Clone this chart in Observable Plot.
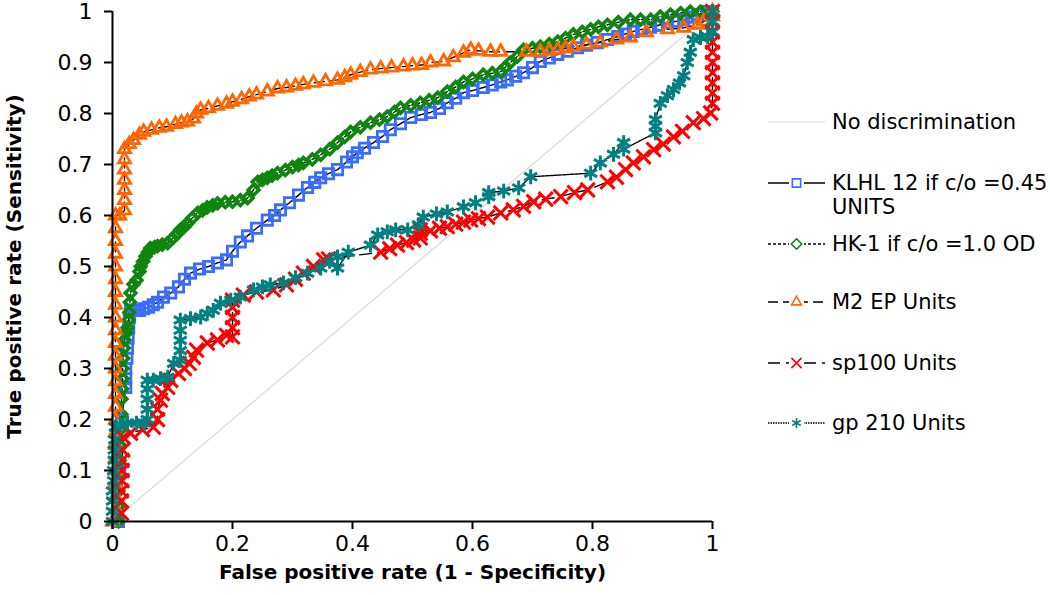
<!DOCTYPE html>
<html><head><meta charset="utf-8">
<script src="https://cdn.jsdelivr.net/npm/d3@7"></script>
<script src="https://cdn.jsdelivr.net/npm/@observablehq/plot@0.6"></script>
<style>
body{margin:0;background:#fff;font-family:"DejaVu Sans",sans-serif;}
#wrap{position:relative;width:1050px;height:595px;overflow:hidden;}
.leg{position:absolute;left:768px;font-size:21px;line-height:24px;color:#000;display:flex;align-items:flex-start;white-space:nowrap;}
.leg svg{flex:none;margin-right:7px;}
</style></head><body><div id="wrap"></div>
<script>
const xTicks=[0,0.2,0.4,0.6,0.8,1];
const yTicks=[0,0.1,0.2,0.3,0.4,0.5,0.6,0.7,0.8,0.9,1];
const xTitle="False positive rate (1 - Specificity)";
const yTitle="True positive rate (Sensitivity)";
const seriesNames=["No discrimination","KLHL 12 if c/o =0.45\nUNITS","HK-1 if c/o =1.0 OD","M2 EP Units","sp100 Units","gp 210 Units"];
const seriesColors=["#d9d9d9","#3a6cff","#0f860f","#ff6600","#ff0000","#008080"];

const noDisc=[[0,0],[1,1]];

const klhl=[[0.01,0],[0.012,0.1],[0.015,0.2],[0.022,0.263],[0.022,0.28],[0.022,0.3],[0.024,0.32],[0.025,0.34],[0.026,0.36],[0.027,0.38],[0.028,0.4],[0.03,0.414],[0.038,0.414],[0.045,0.414],[0.052,0.417],[0.06,0.42],[0.068,0.425],[0.075,0.43],[0.085,0.44],[0.097,0.448],[0.11,0.46],[0.12,0.475],[0.13,0.487],[0.145,0.495],[0.16,0.5],[0.175,0.507],[0.19,0.513],[0.2,0.53],[0.213,0.548],[0.225,0.56],[0.24,0.575],[0.258,0.591],[0.27,0.6],[0.28,0.611],[0.295,0.625],[0.31,0.64],[0.325,0.655],[0.337,0.665],[0.347,0.674],[0.36,0.682],[0.375,0.69],[0.39,0.705],[0.4,0.715],[0.408,0.723],[0.42,0.732],[0.435,0.743],[0.45,0.755],[0.463,0.768],[0.48,0.78],[0.497,0.792],[0.515,0.798],[0.53,0.802],[0.545,0.81],[0.558,0.821],[0.572,0.83],[0.585,0.841],[0.6,0.845],[0.618,0.851],[0.633,0.856],[0.647,0.862],[0.658,0.866],[0.672,0.873],[0.685,0.88],[0.7,0.89],[0.713,0.902],[0.728,0.909],[0.742,0.916],[0.758,0.922],[0.775,0.929],[0.79,0.934],[0.808,0.939],[0.825,0.945],[0.842,0.951],[0.855,0.956],[0.868,0.961],[0.882,0.965],[0.897,0.969],[0.91,0.973],[0.925,0.978],[0.94,0.981],[0.952,0.984],[0.965,0.989],[0.975,0.994],[0.992,1.0],[1,1]];

const hk1=[[0.01,0],[0.01,0.03],[0.01,0.06],[0.011,0.09],[0.012,0.12],[0.012,0.15],[0.013,0.18],[0.015,0.21],[0.015,0.24],[0.016,0.26],[0.017,0.28],[0.017,0.3],[0.018,0.32],[0.019,0.34],[0.02,0.356],[0.023,0.37],[0.025,0.38],[0.027,0.395],[0.028,0.41],[0.029,0.43],[0.03,0.448],[0.035,0.465],[0.04,0.473],[0.045,0.49],[0.047,0.5],[0.051,0.51],[0.055,0.52],[0.059,0.528],[0.063,0.536],[0.07,0.538],[0.075,0.54],[0.083,0.543],[0.092,0.546],[0.1,0.555],[0.107,0.563],[0.113,0.572],[0.12,0.578],[0.125,0.585],[0.133,0.595],[0.142,0.605],[0.15,0.61],[0.158,0.616],[0.167,0.62],[0.175,0.624],[0.188,0.626],[0.2,0.627],[0.213,0.63],[0.225,0.634],[0.235,0.65],[0.242,0.666],[0.25,0.67],[0.258,0.674],[0.266,0.678],[0.275,0.683],[0.288,0.689],[0.3,0.695],[0.31,0.699],[0.318,0.703],[0.333,0.71],[0.347,0.719],[0.362,0.73],[0.375,0.743],[0.387,0.754],[0.397,0.764],[0.413,0.773],[0.43,0.782],[0.445,0.788],[0.458,0.794],[0.47,0.803],[0.48,0.811],[0.497,0.816],[0.513,0.821],[0.528,0.826],[0.542,0.831],[0.558,0.843],[0.572,0.852],[0.585,0.862],[0.6,0.868],[0.618,0.876],[0.633,0.879],[0.647,0.882],[0.655,0.891],[0.663,0.9],[0.675,0.912],[0.685,0.925],[0.7,0.928],[0.713,0.931],[0.728,0.936],[0.742,0.941],[0.755,0.948],[0.768,0.955],[0.783,0.96],[0.797,0.965],[0.81,0.97],[0.825,0.974],[0.843,0.979],[0.863,0.984],[0.88,0.984],[0.897,0.984],[0.913,0.99],[0.93,0.994],[0.947,0.997],[0.963,1.0],[0.98,1.0],[1,1]];

const m2ep=[[0,0],[0.005,0.025],[0.005,0.05],[0.005,0.075],[0.005,0.1],[0.005,0.125],[0.005,0.15],[0.005,0.175],[0.005,0.2],[0.005,0.225],[0.005,0.25],[0.005,0.275],[0.005,0.3],[0.005,0.325],[0.005,0.35],[0.005,0.375],[0.005,0.4],[0.005,0.425],[0.005,0.45],[0.005,0.475],[0.005,0.5],[0.005,0.525],[0.005,0.55],[0.005,0.575],[0.005,0.6],[0.012,0.6],[0.02,0.61],[0.02,0.63],[0.02,0.65],[0.02,0.67],[0.02,0.69],[0.02,0.71],[0.02,0.73],[0.028,0.74],[0.035,0.748],[0.045,0.758],[0.052,0.764],[0.065,0.768],[0.078,0.772],[0.09,0.774],[0.105,0.779],[0.115,0.782],[0.125,0.784],[0.135,0.79],[0.14,0.8],[0.147,0.807],[0.16,0.81],[0.175,0.815],[0.19,0.819],[0.2,0.823],[0.215,0.828],[0.228,0.833],[0.24,0.837],[0.258,0.843],[0.275,0.849],[0.29,0.851],[0.305,0.854],[0.318,0.857],[0.335,0.86],[0.355,0.863],[0.375,0.866],[0.387,0.871],[0.397,0.876],[0.413,0.881],[0.43,0.886],[0.447,0.888],[0.465,0.89],[0.485,0.892],[0.5,0.894],[0.515,0.895],[0.53,0.9],[0.552,0.902],[0.568,0.91],[0.585,0.919],[0.597,0.925],[0.61,0.923],[0.63,0.921],[0.647,0.921],[0.69,0.921],[0.713,0.921],[0.728,0.923],[0.742,0.925],[0.755,0.928],[0.768,0.931],[0.79,0.935],[0.813,0.939],[0.84,0.945],[0.863,0.949],[0.89,0.959],[0.925,0.965],[0.952,0.968],[0.975,0.974],[0.985,0.98],[1,0.99],[1,1]];

const sp100=[[0.015,0.016],[0.015,0.04],[0.015,0.06],[0.016,0.08],[0.016,0.1],[0.016,0.12],[0.017,0.14],[0.018,0.165],[0.03,0.173],[0.05,0.18],[0.068,0.185],[0.075,0.2],[0.075,0.22],[0.08,0.238],[0.083,0.251],[0.092,0.263],[0.097,0.277],[0.11,0.29],[0.12,0.3],[0.128,0.31],[0.135,0.322],[0.14,0.336],[0.158,0.35],[0.175,0.356],[0.19,0.365],[0.2,0.362],[0.2,0.38],[0.2,0.4],[0.2,0.42],[0.2,0.434],[0.218,0.444],[0.24,0.45],[0.268,0.454],[0.29,0.464],[0.305,0.475],[0.318,0.487],[0.335,0.5],[0.352,0.513],[0.36,0.515],[0.447,0.528],[0.462,0.535],[0.475,0.542],[0.49,0.547],[0.502,0.552],[0.513,0.556],[0.513,0.565],[0.513,0.572],[0.53,0.57],[0.545,0.575],[0.558,0.578],[0.572,0.583],[0.585,0.587],[0.597,0.591],[0.61,0.594],[0.625,0.597],[0.647,0.605],[0.668,0.611],[0.685,0.618],[0.702,0.627],[0.722,0.632],[0.747,0.637],[0.77,0.645],[0.792,0.65],[0.825,0.666],[0.84,0.675],[0.855,0.69],[0.868,0.703],[0.885,0.715],[0.902,0.729],[0.918,0.74],[0.935,0.754],[0.95,0.765],[0.968,0.782],[0.985,0.79],[0.997,0.801],[1,0.82],[1,0.84],[1,0.86],[1,0.88],[1,0.9],[1,0.92],[1,0.94],[1,0.96],[1,0.98],[1,1]];

const gp210=[[0,0],[0,0.02],[0,0.04],[0,0.06],[0.002,0.08],[0.002,0.1],[0.003,0.12],[0.003,0.14],[0.004,0.16],[0.005,0.185],[0.013,0.19],[0.025,0.193],[0.04,0.193],[0.053,0.193],[0.058,0.2],[0.058,0.22],[0.058,0.24],[0.058,0.26],[0.058,0.277],[0.068,0.277],[0.08,0.28],[0.092,0.283],[0.102,0.31],[0.113,0.316],[0.113,0.335],[0.113,0.355],[0.113,0.375],[0.113,0.395],[0.13,0.398],[0.147,0.401],[0.158,0.408],[0.168,0.414],[0.18,0.428],[0.197,0.434],[0.213,0.44],[0.235,0.454],[0.25,0.46],[0.263,0.464],[0.285,0.468],[0.305,0.478],[0.325,0.487],[0.347,0.497],[0.362,0.51],[0.375,0.519],[0.375,0.497],[0.393,0.528],[0.43,0.542],[0.442,0.562],[0.458,0.568],[0.472,0.572],[0.492,0.572],[0.51,0.582],[0.518,0.597],[0.54,0.603],[0.558,0.607],[0.585,0.617],[0.605,0.625],[0.627,0.637],[0.627,0.645],[0.652,0.648],[0.677,0.654],[0.697,0.676],[0.797,0.683],[0.813,0.703],[0.835,0.72],[0.852,0.743],[0.852,0.73],[0.905,0.762],[0.905,0.775],[0.905,0.788],[0.913,0.82],[0.925,0.835],[0.935,0.847],[0.945,0.86],[0.952,0.874],[0.958,0.9],[0.963,0.92],[0.968,0.945],[0.98,0.949],[0.992,0.951],[1,0.96],[1,0.98],[1,1]];

const toObj=a=>a.map(([x,y])=>({x,y}));
const series=[
  {name:seriesNames[1],data:toObj(klhl),color:seriesColors[1],symbol:"square",r:5.8,sw:2.8,dash:null},
  {name:seriesNames[2],data:toObj(hk1),color:seriesColors[2],symbol:"diamond2",r:4.8,sw:3.6,dash:"3,2"},
  {name:seriesNames[3],data:toObj(m2ep),color:seriesColors[3],symbol:"triangle2",r:5.8,sw:2.8,dash:"10,5"},
  {name:seriesNames[4],data:toObj(sp100),color:seriesColors[4],symbol:"times",r:6.5,sw:3,dash:"12,6"},
  {name:seriesNames[5],data:toObj(gp210),color:seriesColors[5],symbol:"asterisk",r:7,sw:3,dash:"1.5,1"}
];

const marks=[
  Plot.line(toObj(noDisc),{x:"x",y:"y",stroke:seriesColors[0],strokeWidth:1.2}),
];
for(const s of series){
  marks.push(Plot.line(s.data,{x:"x",y:"y",stroke:"#000",strokeWidth:1.4,strokeDasharray:s.dash||undefined}));
}
for(const s of series){
  marks.push(Plot.dot(s.data,{x:"x",y:"y",symbol:()=>s.symbol,r:s.r,stroke:s.color,fill:"none",strokeWidth:s.sw}));
}
marks.push(
  Plot.axisX({ticks:xTicks,tickSize:8,tickPadding:6,fontSize:22,label:null,tickFormat:d=>String(d),strokeWidth:2}),
  Plot.axisY({ticks:yTicks,tickSize:8,tickPadding:12,fontSize:22,label:null,tickFormat:d=>String(d),strokeWidth:2}),
  Plot.ruleY([0],{stroke:"#000",strokeWidth:2}),
  Plot.ruleX([0],{stroke:"#000",strokeWidth:2}),
  Plot.text([xTitle],{frameAnchor:"bottom",dy:57,fontSize:20,fontWeight:"bold",fill:"#000"}),
  Plot.text([yTitle],{frameAnchor:"left",textAnchor:"middle",rotate:-90,dx:-98,fontSize:20,fontWeight:"bold",fill:"#000"})
);

const chart=Plot.plot({
  width:1050,height:595,
  marginLeft:112,marginRight:338,marginTop:11,marginBottom:74,
  x:{domain:[0,1]},y:{domain:[0,1]},
  style:{fontFamily:"DejaVu Sans",color:"#000",background:"#fff",overflow:"visible"},
  marks
});
const wrap=document.getElementById("wrap");
wrap.appendChild(chart);

// legend
const legCenters=[122,183,244,302,363,423];
const legStyles=[
  {color:seriesColors[0],symbol:null,dash:null,line:seriesColors[0]},
  ...series.map(s=>({color:s.color,symbol:s.symbol,dash:s.dash,line:"#000",sw:s.sw}))
];
const symMap={square:d3.symbolSquare,diamond2:d3.symbolDiamond2,triangle2:d3.symbolTriangle2,times:d3.symbolTimes,asterisk:d3.symbolAsterisk};
seriesNames.forEach((name,i)=>{
  const st=legStyles[i];
  const div=document.createElement("div");
  div.className="leg";
  div.style.top=(legCenters[i]-12)+"px";
  const svg=d3.create("svg").attr("width",57).attr("height",24);
  svg.append("line").attr("x1",0).attr("x2",57).attr("y1",12).attr("y2",12)
    .attr("stroke",st.line).attr("stroke-width",i===0?1.2:1.4).attr("stroke-dasharray",st.dash);
  if(st.symbol){
    const sz=Math.PI*22;
    svg.append("rect").attr("x",21).attr("y",4).attr("width",15).attr("height",16).attr("fill","#fff");
    svg.append("path").attr("transform","translate(28.5,12)")
      .attr("d",d3.symbol(symMap[st.symbol],sz)()).attr("fill","none").attr("stroke",st.color).attr("stroke-width",1.6);
  }
  div.appendChild(svg.node());
  const span=document.createElement("span");
  span.innerHTML=name.replace("\n","<br>");
  div.appendChild(span);
  wrap.appendChild(div);
});
</script></body></html>
